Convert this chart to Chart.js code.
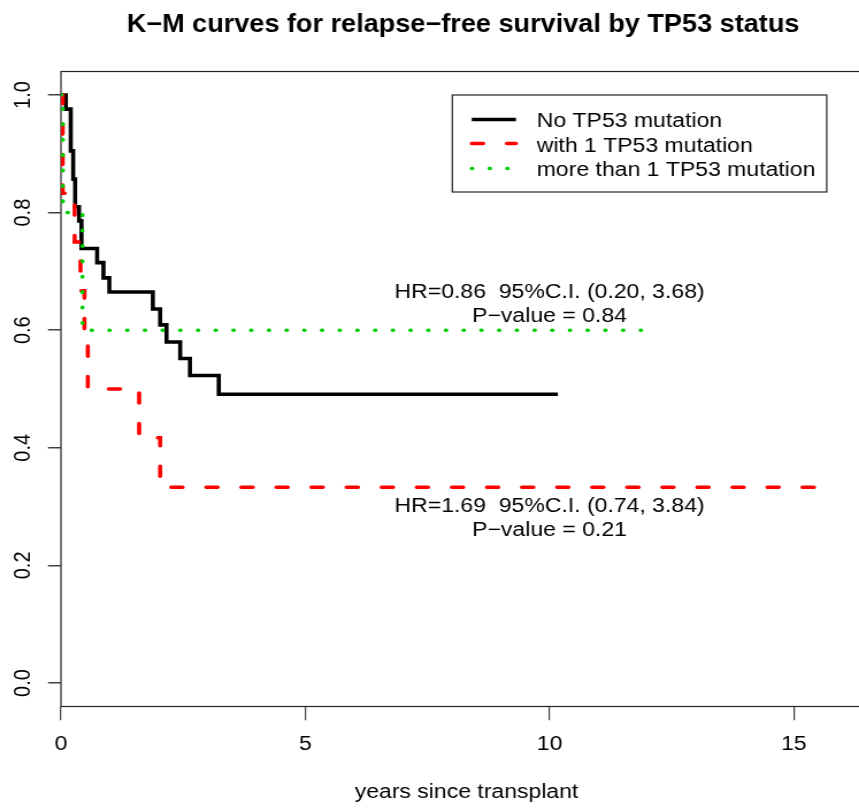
<!DOCTYPE html>
<html>
<head>
<meta charset="utf-8">
<title>K-M curves for relapse-free survival by TP53 status</title>
<script src="https://cdn.jsdelivr.net/npm/chart.js@4.4.1/dist/chart.umd.min.js"></script>
<style>
  html, body { margin: 0; padding: 0; background: #fff; overflow: hidden; }
  #wrap { width: 859px; height: 808px; overflow: hidden; position: relative; }
  /* the reference is drawn a little wide, so the canvas is stretched sideways */
  #km { position: absolute; left: 0; top: 0; transform: scaleX(1.15); transform-origin: 0 0; }
</style>
</head>
<body>
<div id="wrap"><canvas id="km" width="780" height="808"></canvas></div>
<script>
// Kaplan-Meier steps (years since transplant, survival)
const noTimes = [0, 0.10, 0.20, 0.25, 0.29, 0.37, 0.42, 0.74, 0.87, 0.99, 1.88, 2.03, 2.16, 2.44, 2.64, 3.23, 10.17];
const noSurv = [1, 0.976, 0.905, 0.857, 0.810, 0.786, 0.739, 0.715, 0.689, 0.665, 0.636, 0.609, 0.580, 0.552, 0.523, 0.491, 0.491];

const oneTimes = [0, 0.035, 0.28, 0.40, 0.48, 0.55, 1.60, 2.03, 15.43];
const oneSurv = [1, 0.833, 0.75, 0.667, 0.583, 0.5, 0.417, 0.333, 0.333];

const moreTimes = [0, 0.04, 0.44, 11.9];
const moreSurv = [1, 0.8, 0.6, 0.6];

const groupLabels = ['No TP53 mutation', 'with 1 TP53 mutation', 'more than 1 TP53 mutation'];
const xTicks = [0, 5, 10, 15];
const yTicks = [0, 0.2, 0.4, 0.6, 0.8, 1.0];

const titleText = 'K\u2212M curves for relapse\u2212free survival by TP53 status';
const xTitle = 'years since transplant';
const hrNotes = [
  ['HR=0.86  95%C.I. (0.20, 3.68)', 'P\u2212value = 0.84'],
  ['HR=1.69  95%C.I. (0.74, 3.84)', 'P\u2212value = 0.21']
];
const noteX = [10, 10];
const noteY = [0.647, 0.283];

const FONT = '"Liberation Sans", Arial, Helvetica, sans-serif';
Chart.defaults.font.family = FONT;

function pts(times, surv) {
  return times.map((t, i) => ({ x: t, y: surv[i] }));
}

// Title, box, notes and legend drawn like R does
const decor = {
  id: 'decor',
  beforeDatasetsDraw(chart) {
    const { ctx, chartArea: a } = chart;
    ctx.save();
    ctx.strokeStyle = '#222';
    ctx.lineWidth = 1.2;
    ctx.strokeRect(a.left, a.top, a.right - a.left, a.bottom - a.top);
    ctx.restore();
  },
  afterDraw(chart) {
    const { ctx, chartArea: a, scales } = chart;
    const cx = (a.left + a.right) / 2;
    ctx.save();
    ctx.fillStyle = '#000';
    ctx.textAlign = 'center';
    ctx.textBaseline = 'alphabetic';

    // title: a bit taller than wide, squeezed to the reference width
    ctx.font = 'bold 25px ' + FONT;
    const tw = ctx.measureText(titleText).width;
    const sx = 585 / tw;
    ctx.save();
    ctx.translate(cx - 3, 32);
    ctx.scale(sx, 1);
    ctx.fillText(titleText, 0, 0);
    ctx.restore();

    ctx.font = '20px ' + FONT;
    ctx.fillText(xTitle, cx, 798);

    // HR / P-value notes, two lines centred on the anchor
    hrNotes.forEach((lines, i) => {
      const px = scales.x.getPixelForValue(noteX[i]);
      const py = scales.y.getPixelForValue(noteY[i]);
      ctx.fillText(lines[0], px, py - 11.75 + 7.2);
      ctx.fillText(lines[1], px, py + 11.75 + 7.2);
    });

    // legend box
    const box = { left: 393.3, top: 95, w: 325.6, h: 97 };
    ctx.strokeStyle = '#222';
    ctx.lineWidth = 1.2;
    ctx.strokeRect(box.left, box.top, box.w, box.h);
    const rowY = [119.5, 143.5, 168.5];
    const baseY = [127.3, 151.7, 176];
    chart.data.datasets.forEach((ds, i) => {
      ctx.save();
      ctx.strokeStyle = ds.borderColor;
      ctx.lineWidth = ds.borderWidth;
      ctx.lineCap = ds.borderCapStyle || 'butt';
      ctx.setLineDash(ds.borderDash || []);
      ctx.beginPath();
      ctx.moveTo(410.2, rowY[i]);
      ctx.lineTo(448.7, rowY[i]);
      ctx.stroke();
      ctx.restore();
      ctx.textAlign = 'left';
      ctx.fillText(groupLabels[i], 466.7, baseY[i]);
    });
    ctx.restore();
  }
};

const ctx = document.getElementById('km').getContext('2d');
new Chart(ctx, {
  type: 'line',
  data: {
    datasets: [
      { label: groupLabels[0], data: pts(noTimes, noSurv), stepped: true, borderColor: '#000000', borderWidth: 3.6, borderJoinStyle: 'miter', pointRadius: 0, fill: false, order: 2 },
      { label: groupLabels[1], data: pts(oneTimes, oneSurv), stepped: true, borderColor: '#ff0000', borderWidth: 3.6, borderDash: [10, 20.5], borderCapStyle: 'round', pointRadius: 0, fill: false, order: 1 },
      { label: groupLabels[2], data: pts(moreTimes, moreSurv), stepped: true, borderColor: '#00cd00', borderWidth: 3.6, borderDash: [0.5, 14.9], borderCapStyle: 'round', pointRadius: 0, fill: false, order: 0 }
    ]
  },
  options: {
    responsive: false,
    devicePixelRatio: 1,
    animation: false,
    events: [],
    layout: { padding: { top: 71.5, right: 21.7, left: 0, bottom: 0 } },
    plugins: { legend: { display: false }, tooltip: { enabled: false }, title: { display: false } },
    scales: {
      x: {
        type: 'linear', min: 0, max: 16.6,
        afterBuildTicks: s => { s.ticks = xTicks.map(v => ({ value: v })); },
        afterFit: s => { s.height = 101.5; },
        grid: { drawOnChartArea: false, drawTicks: true, tickLength: 13.7, color: '#444', lineWidth: 1.2 },
        border: { display: false },
        ticks: { font: { size: 20 }, color: '#000', padding: 12.3, maxRotation: 0, autoSkip: false, callback: v => String(v) }
      },
      y: {
        type: 'linear', min: -0.04, max: 1.04,
        afterBuildTicks: s => { s.ticks = yTicks.map(v => ({ value: v })); },
        afterFit: s => { s.width = 53; },
        grid: { drawOnChartArea: false, drawTicks: true, tickLength: 11.3, color: '#444', lineWidth: 1.5 },
        border: { display: false },
        ticks: { font: { size: 20 }, color: '#000', padding: 7, minRotation: 90, maxRotation: 90, crossAlign: 'center', autoSkip: false, callback: v => v.toFixed(1) }
      }
    }
  },
  plugins: [decor]
});
</script>
</body>
</html>
